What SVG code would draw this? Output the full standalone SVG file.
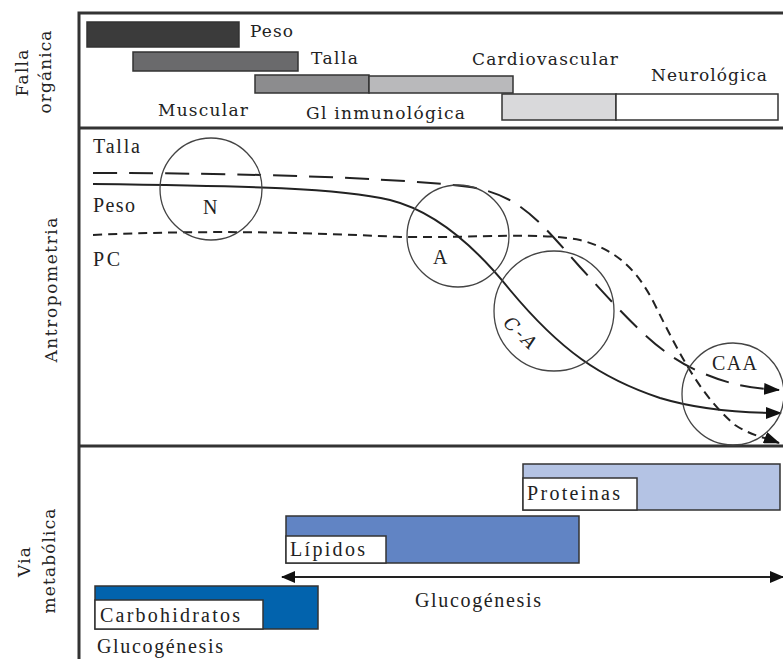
<svg xmlns="http://www.w3.org/2000/svg" width="783" height="659" viewBox="0 0 783 659">
<style>
text{font-family:"DejaVu Serif","Liberation Serif",serif;font-size:17px;fill:#222}
.mid{font-family:"Liberation Serif","DejaVu Serif",serif;font-size:20px}
.big{font-size:18px}
.tms{font-family:"Liberation Serif","DejaVu Serif",serif;font-size:20px}
.frame{stroke:#333;stroke-width:3;fill:none}
.bar{stroke:#333;stroke-width:1.5}
.circ{fill:none;stroke:#444;stroke-width:1.3}
.curve{fill:none;stroke:#222;stroke-width:2}
</style>
<defs>
<marker id="ah" markerUnits="userSpaceOnUse" markerWidth="16" markerHeight="12" refX="15" refY="6" orient="auto">
<path d="M0,0 L16,6 L0,12 Z" fill="#111"/>
</marker>
<marker id="dh" markerUnits="userSpaceOnUse" markerWidth="14" markerHeight="12" refX="13" refY="6" orient="auto-start-reverse">
<path d="M0,0 L14,6 L0,12 Z" fill="#111"/>
</marker>
</defs>
<rect width="783" height="659" fill="#fff"/>
<g id="frame">
<path class="frame" d="M79,659 L79,13 L783,13 M79,128 L783,128 M79,446 L783,446"/>
</g>
<g id="axis-labels">
<text transform="translate(28,73) rotate(-90)" text-anchor="middle" textLength="47" lengthAdjust="spacing">Falla</text>
<text transform="translate(51,72) rotate(-90)" text-anchor="middle" textLength="83" lengthAdjust="spacing">orgánica</text>
<text transform="translate(57,290) rotate(-90)" text-anchor="middle" textLength="145" lengthAdjust="spacing">Antropometria</text>
<text transform="translate(30,562) rotate(-90)" text-anchor="middle" textLength="30" lengthAdjust="spacing">Via</text>
<text transform="translate(55,561) rotate(-90)" text-anchor="middle" textLength="105" lengthAdjust="spacing">metabólica</text>
</g>
<g id="falla-organica">
<g id="bar-peso"><rect class="bar" x="87" y="22" width="152" height="25" fill="#3b3b3b"/><text x="250" y="37" textLength="43" lengthAdjust="spacing">Peso</text></g>
<g id="bar-talla"><rect class="bar" x="133" y="52" width="165" height="19" fill="#6a6a6c"/><text x="311" y="64" textLength="47" lengthAdjust="spacing">Talla</text></g>
<g id="bar-muscular"><rect class="bar" x="255" y="75" width="114" height="18" fill="#8c8c8e"/><text x="158" y="116" textLength="90" lengthAdjust="spacing">Muscular</text></g>
<g id="bar-gi"><rect class="bar" x="369" y="76" width="144" height="17" fill="#b9b9bb"/><text x="306" y="119" textLength="159" lengthAdjust="spacing">Gl inmunológica</text></g>
<g id="bar-cardio"><rect class="bar" x="502" y="94" width="114" height="26" fill="#d9d9db"/><text x="472" y="65" textLength="146" lengthAdjust="spacing">Cardiovascular</text></g>
<g id="bar-neuro"><rect class="bar" x="616" y="94" width="162" height="26" fill="#fff"/><text x="651" y="81" textLength="116" lengthAdjust="spacing">Neurológica</text></g>
</g>
<g id="antropometria-labels">
<text class="mid" x="93" y="153" textLength="47" lengthAdjust="spacing">Talla</text>
<text class="mid" x="93" y="212" textLength="42" lengthAdjust="spacing">Peso</text>
<text class="mid" x="93" y="266" textLength="27" lengthAdjust="spacing">PC</text>
</g>
<g id="connectors">
<path id="curve-talla" class="curve" stroke-dasharray="24 12" marker-end="url(#ah)" d="M93,173 C250,173 400,178 470,187 C520,195 540,222 580,267 C630,322 660,355 700,372 C730,385 750,388 779,390"/>
<path id="curve-peso" class="curve" marker-end="url(#ah)" d="M93,184 C250,186 340,188 390,200 C430,210 470,240 510,290 C560,350 600,378 660,398 C700,410 740,413 781,413"/>
<path id="curve-pc" class="curve" stroke-dasharray="9 6" marker-end="url(#ah)" d="M93,235 C200,230 300,232 400,237 C480,238 540,232 580,240 C620,250 640,275 655,305 C680,355 700,395 735,425 C750,435 766,438 779,443"/>
<path id="arrow-glucogenesis" d="M282,577 L783,577" stroke="#222" stroke-width="2" fill="none" marker-start="url(#dh)" marker-end="url(#dh)"/>
</g>
<g id="node-N"><circle class="circ" cx="211" cy="189" r="51"/><text class="mid" x="203" y="214">N</text></g>
<g id="node-A"><circle class="circ" cx="458" cy="236" r="51"/><text class="mid" x="433" y="264">A</text></g>
<g id="node-CA"><circle class="circ" cx="554" cy="311" r="60"/><text class="big" transform="translate(520,333) rotate(44)" text-anchor="middle" dy="6" font-style="italic" textLength="38" lengthAdjust="spacing">C-A</text></g>
<g id="node-CAA"><circle class="circ" cx="733" cy="394" r="51"/><text class="mid" x="712" y="370" textLength="45" lengthAdjust="spacing">CAA</text></g>
<g id="via-metabolica">
<g id="bar-proteinas"><rect class="bar" x="523" y="464" width="257" height="46" fill="#b4c3e4"/><rect class="bar" x="523" y="478" width="114" height="32" fill="#fff"/><text class="tms" x="527" y="500" textLength="93" lengthAdjust="spacing">Proteinas</text></g>
<g id="bar-lipidos"><rect class="bar" x="286" y="516" width="293" height="47" fill="#6184c4"/><rect class="bar" x="286" y="536" width="100" height="27" fill="#fff"/><text class="tms" x="290" y="556" textLength="75" lengthAdjust="spacing">Lípidos</text></g>
<g id="bar-carbohidratos"><rect class="bar" x="95" y="586" width="223" height="43" fill="#0263ad"/><rect class="bar" x="95" y="600" width="168" height="29" fill="#fff"/><text class="tms" x="100" y="622" textLength="140" lengthAdjust="spacing">Carbohidratos</text></g>
<text class="tms" x="415" y="607" textLength="126" lengthAdjust="spacing">Glucogénesis</text>
<text class="tms" x="97" y="653" textLength="126" lengthAdjust="spacing">Glucogénesis</text>
</g>
</svg>
